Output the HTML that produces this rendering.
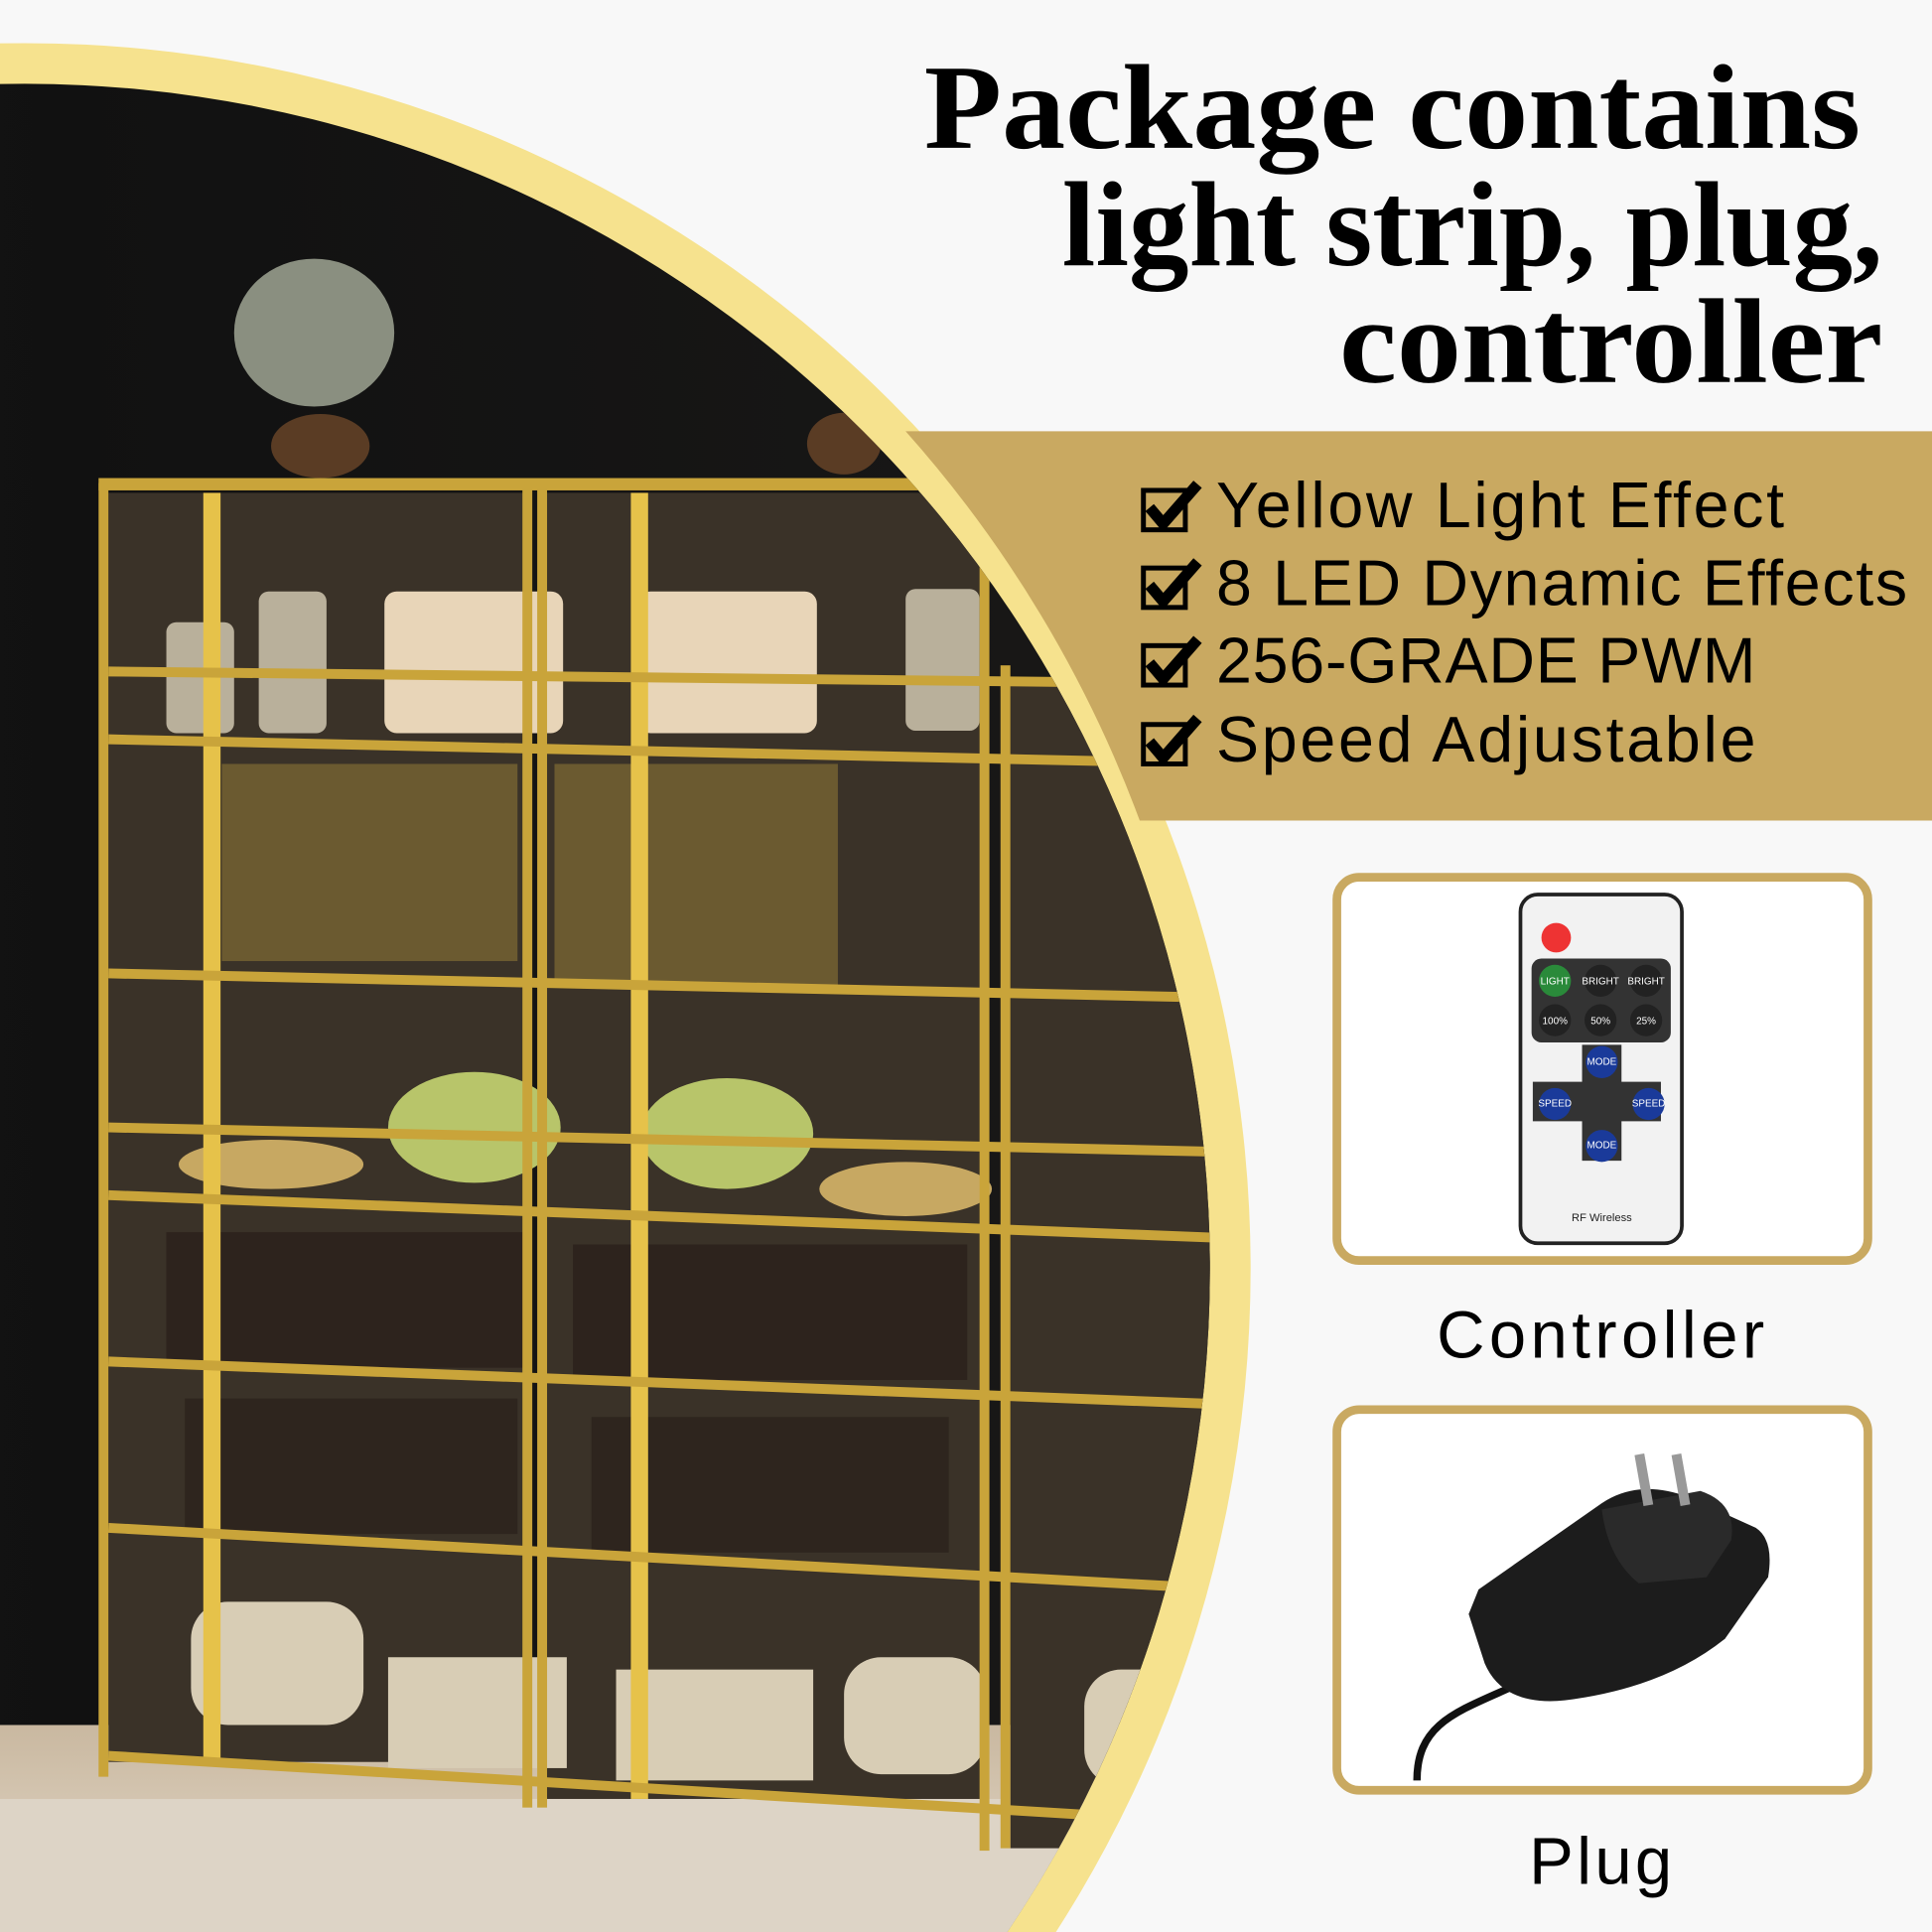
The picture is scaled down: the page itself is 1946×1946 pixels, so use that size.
<!DOCTYPE html>
<html><head><meta charset="utf-8"><style>
html,body{margin:0;padding:0;background:#f8f8f8;width:1946px;height:1946px;overflow:hidden;}
svg{display:block}
</style></head><body>
<svg width="1946" height="1946" viewBox="0 0 1568 1568" xmlns="http://www.w3.org/2000/svg">
<defs>
<clipPath id="c"><circle cx="20" cy="1030" r="962"/></clipPath>
<linearGradient id="wall" x1="0" y1="0" x2="1" y2="0"><stop offset="0" stop-color="#1c1c1c"/><stop offset="0.5" stop-color="#111"/><stop offset="1" stop-color="#1a1918"/></linearGradient>
<linearGradient id="floor" x1="0" y1="0" x2="0" y2="1"><stop offset="0" stop-color="#c9b8a0"/><stop offset="1" stop-color="#e6dccd"/></linearGradient>
</defs>
<rect width="1568" height="1568" fill="#f8f8f8"/>
<circle cx="20" cy="1030" r="995" fill="#f6e28e"/>
<g clip-path="url(#c)">
<rect x="-1000" y="0" width="2100" height="1568" fill="url(#wall)"/>
<rect x="-1000" y="1400" width="2100" height="170" fill="url(#floor)"/>
<rect x="0" y="1460" width="1100" height="110" fill="#ddd4c6"/>
<rect x="88" y="400" width="340" height="1030" fill="#3a3228"/>
<rect x="440" y="400" width="360" height="1060" fill="#3a3228"/>
<rect x="820" y="550" width="200" height="950" fill="#3a3228"/>
<ellipse cx="255" cy="270" rx="65" ry="60" fill="#8a8f80"/>
<ellipse cx="260" cy="362" rx="40" ry="26" fill="#5a3c24"/>
<ellipse cx="685" cy="360" rx="30" ry="25" fill="#5a3c24"/>
<rect x="312" y="480" width="145" height="115" rx="10" fill="#e8d5b8"/>
<rect x="518" y="480" width="145" height="115" rx="10" fill="#e8d5b8"/>
<rect x="135" y="505" width="55" height="90" rx="8" fill="#d9d0b8" opacity="0.8"/>
<rect x="210" y="480" width="55" height="115" rx="8" fill="#d9d0b8" opacity="0.8"/>
<rect x="735" y="478" width="60" height="115" rx="8" fill="#d9d0b8" opacity="0.8"/>
<g fill="#c8a740">
<rect x="180" y="620" width="240" height="160" opacity="0.35"/>
<rect x="450" y="620" width="230" height="180" opacity="0.35"/>
</g>
<ellipse cx="220" cy="945" rx="75" ry="20" fill="#c7a862"/>
<ellipse cx="385" cy="915" rx="70" ry="45" fill="#b8c56a"/>
<ellipse cx="590" cy="920" rx="70" ry="45" fill="#b8c56a"/>
<ellipse cx="735" cy="965" rx="70" ry="22" fill="#c7a862"/>
<g fill="#2a1f1a">
<rect x="135" y="1000" width="290" height="110" opacity="0.8"/>
<rect x="465" y="1010" width="320" height="110" opacity="0.8"/>
<rect x="150" y="1135" width="270" height="110" opacity="0.7"/>
<rect x="480" y="1150" width="290" height="110" opacity="0.7"/>
</g>
<g fill="#d8cdb5">
<rect x="155" y="1300" width="140" height="100" rx="30"/>
<rect x="315" y="1345" width="145" height="90"/>
<rect x="500" y="1355" width="160" height="90"/>
<rect x="685" y="1345" width="115" height="95" rx="30"/>
<rect x="880" y="1355" width="80" height="95" rx="30"/>
</g>
<g fill="#c9a43a">
<rect x="80" y="392" width="8" height="1050"/>
<rect x="165" y="400" width="14" height="1030" fill="#e6c24a"/>
<rect x="424" y="392" width="8" height="1075"/>
<rect x="436" y="392" width="8" height="1075"/>
<rect x="512" y="400" width="14" height="1060" fill="#e6c24a"/>
<rect x="795" y="392" width="8" height="1110"/>
<rect x="812" y="540" width="8" height="960"/>
<rect x="80" y="388" width="730" height="10"/>
</g>
<g stroke="#c9a43a" stroke-width="8">
<line x1="88" y1="545" x2="1000" y2="555"/>
<line x1="88" y1="600" x2="1000" y2="620"/>
<line x1="88" y1="790" x2="1000" y2="810"/>
<line x1="88" y1="915" x2="1000" y2="935"/>
<line x1="88" y1="970" x2="1000" y2="1005"/>
<line x1="88" y1="1105" x2="1000" y2="1140"/>
<line x1="88" y1="1240" x2="1000" y2="1290"/>
<line x1="88" y1="1425" x2="1000" y2="1480"/>
</g>
</g>
<g font-family="Liberation Serif, serif" font-weight="bold" font-size="98" fill="#000">
<text x="750" y="120" textLength="760" lengthAdjust="spacingAndGlyphs">Package contains</text>
<text x="862" y="215" textLength="666" lengthAdjust="spacingAndGlyphs">light strip, plug,</text>
<text x="1087" y="310" textLength="441" lengthAdjust="spacingAndGlyphs">controller</text>
</g>
<path d="M735 350 L1568 350 L1568 666 L925 666 A995 995 0 0 0 735 350 Z" fill="#c9a961"/>
<g font-family="Liberation Sans, sans-serif" font-size="52" fill="#000" lengthAdjust="spacingAndGlyphs">
<text x="987" y="428" textLength="461">Yellow Light Effect</text>
<text x="987" y="491" textLength="561">8 LED Dynamic Effects</text>
<text x="987" y="554" textLength="438">256-GRADE PWM</text>
<text x="987" y="618" textLength="438">Speed Adjustable</text>
</g>
<g fill="none" stroke="#000">
<rect x="928" y="398" width="34" height="32" stroke-width="4"/>
<rect x="928" y="461" width="34" height="32" stroke-width="4"/>
<rect x="928" y="524" width="34" height="32" stroke-width="4"/>
<rect x="928" y="588" width="34" height="32" stroke-width="4"/>
<g stroke-width="9">
<polyline points="933,412 944,425 972,393"/>
<polyline points="933,475 944,488 972,456"/>
<polyline points="933,538 944,551 972,519"/>
<polyline points="933,602 944,615 972,583"/>
</g>
</g>
<rect x="1085" y="712" width="431" height="311" rx="18" fill="#fff" stroke="#c9a961" stroke-width="7"/>
<rect x="1085" y="1144" width="431" height="309" rx="18" fill="#fff" stroke="#c9a961" stroke-width="7"/>
<g font-family="Liberation Sans, sans-serif" font-size="54" fill="#000" lengthAdjust="spacingAndGlyphs">
<text x="1166" y="1102" textLength="266">Controller</text>
<text x="1241" y="1529" textLength="116">Plug</text>
</g>
<rect x="1234" y="726" width="131" height="283" rx="14" fill="#f2f2f2" stroke="#222" stroke-width="3"/>
<circle cx="1263" cy="761" r="12" fill="#e33"/>
<rect x="1243" y="778" width="113" height="68" rx="8" fill="#333"/>
<g fill="#222">
<circle cx="1262" cy="796" r="13" fill="#2a8a3a"/><circle cx="1299" cy="796" r="13"/><circle cx="1336" cy="796" r="13"/>
<circle cx="1262" cy="828" r="13"/><circle cx="1299" cy="828" r="13"/><circle cx="1336" cy="828" r="13"/>
</g>
<path d="M1284 848 h32 v30 h32 v32 h-32 v32 h-32 v-32 h-40 v-32 h40 z" fill="#333"/>
<g fill="#1a3a9a"><circle cx="1300" cy="862" r="13"/><circle cx="1262" cy="896" r="13"/><circle cx="1338" cy="896" r="13"/><circle cx="1300" cy="930" r="13"/></g>
<g font-family="Liberation Sans, sans-serif" font-size="8" fill="#fff" text-anchor="middle">
<text x="1262" y="799">LIGHT</text><text x="1299" y="799">BRIGHT</text><text x="1336" y="799">BRIGHT</text>
<text x="1262" y="831">100%</text><text x="1299" y="831">50%</text><text x="1336" y="831">25%</text>
<text x="1300" y="864">MODE</text><text x="1262" y="898">SPEED</text><text x="1338" y="898">SPEED</text><text x="1300" y="932">MODE</text>
</g>
<text x="1300" y="991" font-family="Liberation Sans, sans-serif" font-size="9" text-anchor="middle" fill="#222">RF Wireless</text>
<path d="M1150 1445 C1150 1400 1180 1390 1225 1370" fill="none" stroke="#111" stroke-width="6"/>
<path d="M1200 1290 L1300 1220 Q1330 1200 1370 1215 L1425 1240 Q1440 1250 1435 1280 L1400 1330 Q1350 1370 1270 1380 Q1220 1385 1205 1350 L1192 1310 Z" fill="#1c1c1c"/>
<path d="M1300 1225 L1380 1210 Q1410 1220 1405 1250 L1385 1280 L1330 1285 Q1305 1265 1300 1225 Z" fill="#2a2a2a"/>
<rect x="1330" y="1180" width="8" height="42" fill="#999" transform="rotate(-10 1334 1200)"/>
<rect x="1360" y="1180" width="8" height="42" fill="#999" transform="rotate(-10 1364 1200)"/>
</svg>
</body></html>
